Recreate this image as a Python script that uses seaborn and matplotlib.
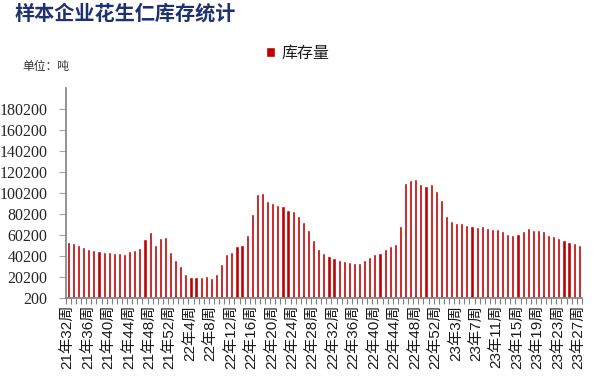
import matplotlib
matplotlib.use("Agg")
import matplotlib.pyplot as plt
import seaborn as sns
import pandas as pd
import numpy as np
from matplotlib.ticker import FixedLocator

# ---- data ----
weeks = ([f"21年{w}周" for w in range(32, 53)] +
         [f"22年{w}周" for w in range(1, 54)] +
         [f"23年{w}周" for w in range(1, 28)])

stock = [
    53800, 52900, 51000, 49000, 47100, 46200, 45200, 44300, 44300, 43300,
    43300, 42400, 45200, 46200, 48100, 56700, 63300, 51000, 57600, 58600,
    44300, 36700, 31000,
    23300, 20500, 20500, 20500, 21400, 19500, 23300, 32900, 42400, 44300,
    50000, 51000, 60500, 80500, 99500, 100500, 92900, 91000, 89100, 88100,
    84300, 83300, 78600, 72900, 65200,
    55700, 47200, 43300, 40500, 38600, 36700, 35700, 34800, 33800, 33800,
    36700, 39500, 42400, 43300, 47200, 50000, 51900, 69100, 110000, 112900,
    113800, 109000, 107200,
    109000, 102400, 93800, 78600, 73800, 71900, 71900, 70000, 69100, 68100,
    69100, 67200, 66200, 66200,
    64300, 61400, 60500, 61400, 64300, 67200, 65200, 65200, 64300, 60500,
    59500, 57600, 55700, 53800, 52900, 51000,
]

series_name = "库存量"
title = "样本企业花生仁库存统计"
unit = "单位：吨"
yticks = list(range(200, 180201, 20000))

df = pd.DataFrame({"week": weeks, "value": stock, "series": series_name})

sns.set_theme(style="white")
plt.rcParams["font.family"] = ["Liberation Sans", "Noto Sans CJK SC", "DejaVu Sans"]

fig = plt.figure(figsize=(5.98, 3.86), dpi=100)
ax = fig.add_axes([0.110, 0.228, 0.863, 0.544])

sns.barplot(data=df, x="week", y="value", hue="series", palette=["#C00000"],
            width=0.62, dodge=False, ax=ax, saturation=1, legend=True)

n = len(weeks)
ax.set_xlim(-0.5, n - 0.5)
ax.set_ylim(200, 200200)
ax.set_yticks(yticks)
ax.set_yticklabels([str(v) for v in yticks], family=["Liberation Serif"],
                   fontsize=11.5, color="#262626")

major = list(range(0, n, 4))
ax.set_xticks(major)
ax.set_xticklabels([weeks[i] for i in major], rotation=90, fontsize=11,
                   color="#1a1a1a", family=["Liberation Sans", "Noto Sans CJK SC"])
ax.xaxis.set_minor_locator(FixedLocator(np.arange(-0.5, n, 1.0)))
ax.tick_params(axis="x", which="major", length=0, pad=5)
ax.tick_params(axis="x", which="minor", length=4, width=0.8, color="#808080",
               bottom=True, direction="out")
ax.tick_params(axis="y", which="major", length=5, width=0.8, color="#a6a6a6",
               left=True, direction="out", pad=8)

for s in ["top", "right"]:
    ax.spines[s].set_visible(False)
for s in ["left", "bottom"]:
    ax.spines[s].set_color("#808080")
    ax.spines[s].set_linewidth(1.2)

ax.set_xlabel("")
ax.set_ylabel("")

leg = ax.legend(loc="center", frameon=False,
                handlelength=0.6, handleheight=0.6, handletextpad=0.4,
                prop={"family": ["Noto Sans CJK SC"], "size": 11.5})
leg.set_bbox_to_anchor((0.498, 0.862), transform=fig.transFigure)
for t in leg.get_texts():
    t.set_color("#1a1a1a")

fig.text(0.025, 0.965, title, fontsize=14.5, fontweight="bold",
         color="#1F3170", family=["Noto Sans CJK SC"], va="center", ha="left")
fig.text(0.037, 0.828, unit, fontsize=8.5, color="#333333",
         family=["Noto Sans CJK SC"], va="center", ha="left")

fig.savefig("out.png", dpi=100)
